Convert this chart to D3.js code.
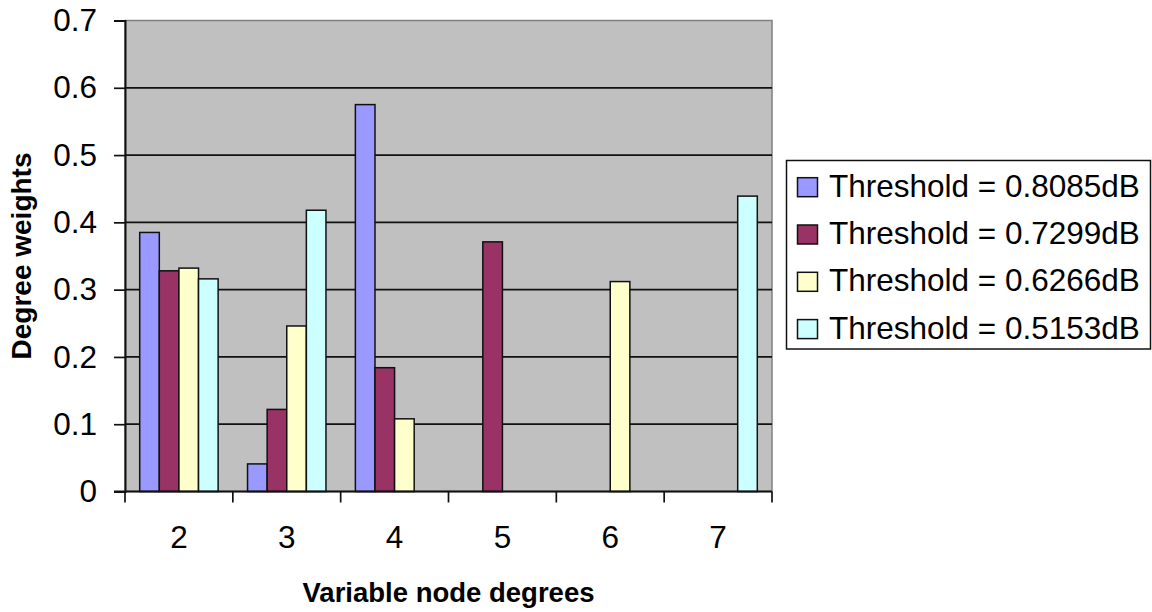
<!DOCTYPE html>
<html>
<head>
<meta charset="utf-8">
<script src="https://cdn.jsdelivr.net/npm/d3@7"></script>
<style>
  html, body { margin: 0; padding: 0; background: #ffffff; }
  svg { display: block; }
  text { font-family: "Liberation Sans", Arial, sans-serif; fill: #000; }
</style>
</head>
<body>
<svg id="chart" width="1152" height="612"></svg>
<script>
// Degree categories on the x axis
const categories = ["2", "3", "4", "5", "6", "7"];

// One entry per threshold series
const seriesNames = [
  "Threshold = 0.8085dB",
  "Threshold = 0.7299dB",
  "Threshold = 0.6266dB",
  "Threshold = 0.5153dB"
];
const seriesColors = ["#9999FF", "#993366", "#FFFFCC", "#CCFFFF"];

// Degree weights per series, aligned with categories
const weights0 = [0.385, 0.041, 0.575, 0, 0, 0];
const weights1 = [0.328, 0.122, 0.184, 0.371, 0, 0];
const weights2 = [0.332, 0.246, 0.108, 0, 0.312, 0];
const weights3 = [0.316, 0.418, 0, 0, 0, 0.439];

// Y axis ticks
const yTickValues = [0, 0.1, 0.2, 0.3, 0.4, 0.5, 0.6, 0.7];
const yTickLabels = ["0", "0.1", "0.2", "0.3", "0.4", "0.5", "0.6", "0.7"];

const allSeries = [weights0, weights1, weights2, weights3];

const svg = d3.select("#chart");
const plot = { left: 125, right: 772, top: 20.5, bottom: 491.5 };

const y = d3.scaleLinear().domain([0, 0.7]).range([plot.bottom, plot.top]);

// Excel-style gap width of 150%: half a gap on each side of the group
const gapRatio = 1.5 / 5.5;
const x = d3.scaleBand()
  .domain(categories)
  .range([plot.left, plot.right])
  .paddingInner(gapRatio)
  .paddingOuter(gapRatio / 2);

const xs = d3.scaleBand()
  .domain(d3.range(seriesNames.length))
  .range([0, x.bandwidth()]);

// Plot area background
svg.append("rect")
  .attr("x", plot.left).attr("y", plot.top)
  .attr("width", plot.right - plot.left)
  .attr("height", plot.bottom - plot.top)
  .attr("fill", "#C0C0C0")
  .attr("stroke", "#808080")
  .attr("stroke-width", 1.5);

// Horizontal gridlines
svg.append("g")
  .selectAll("line")
  .data(yTickValues.filter(v => v > 0 && v < 0.7))
  .join("line")
  .attr("x1", plot.left).attr("x2", plot.right)
  .attr("y1", d => y(d)).attr("y2", d => y(d))
  .attr("stroke", "#111")
  .attr("stroke-width", 1.7);

// Bars
const barData = [];
allSeries.forEach((vals, si) => {
  vals.forEach((v, ci) => {
    if (v > 0) barData.push({ cat: categories[ci], s: si, v: v });
  });
});

svg.append("g")
  .selectAll("rect")
  .data(barData)
  .join("rect")
  .attr("x", d => x(d.cat) + xs(d.s))
  .attr("y", d => y(d.v))
  .attr("width", xs.bandwidth())
  .attr("height", d => y(0) - y(d.v))
  .attr("fill", d => seriesColors[d.s])
  .attr("stroke", "#111")
  .attr("stroke-width", 1.5);

// Y axis
const yAxis = d3.axisLeft(y)
  .tickValues(yTickValues)
  .tickFormat((d, i) => yTickLabels[i])
  .tickSize(11)
  .tickPadding(17);

const gy = svg.append("g")
  .attr("transform", `translate(${plot.left},0)`)
  .call(yAxis);
gy.select(".domain").attr("stroke", "#111").attr("stroke-width", 2);
gy.selectAll(".tick line").attr("stroke", "#111").attr("stroke-width", 1.7);
gy.selectAll(".tick text")
  .attr("font-size", 31.5)
  .attr("font-family", "'Liberation Sans', Arial, sans-serif")
  .attr("fill", "#000");

// X axis: labels centred on categories, tick marks on category boundaries
const xAxis = d3.axisBottom(x).tickSize(0).tickPadding(34);
const gx = svg.append("g")
  .attr("transform", `translate(0,${plot.bottom})`)
  .call(xAxis);
gx.select(".domain").remove();
gx.selectAll(".tick text")
  .attr("font-size", 31.5)
  .attr("font-family", "'Liberation Sans', Arial, sans-serif")
  .attr("fill", "#000");

svg.append("line")
  .attr("x1", plot.left - 11).attr("x2", plot.right)
  .attr("y1", plot.bottom).attr("y2", plot.bottom)
  .attr("stroke", "#111").attr("stroke-width", 2);

const half = x.step() * x.paddingInner() / 2;
const boundaries = categories.map(c => x(c) - half).concat([plot.right]);
svg.append("g")
  .selectAll("line")
  .data(boundaries)
  .join("line")
  .attr("x1", d => d).attr("x2", d => d)
  .attr("y1", plot.bottom).attr("y2", plot.bottom + 11)
  .attr("stroke", "#111").attr("stroke-width", 1.7);

// Axis titles
svg.append("text")
  .attr("x", (plot.left + plot.right) / 2)
  .attr("y", 602)
  .attr("text-anchor", "middle")
  .attr("font-size", 27.5)
  .attr("font-weight", "bold")
  .text("Variable node degrees");

svg.append("text")
  .attr("transform", `translate(31,${(plot.top + plot.bottom) / 2}) rotate(-90)`)
  .attr("text-anchor", "middle")
  .attr("font-size", 28)
  .attr("font-weight", "bold")
  .text("Degree weights");

// Legend
const legend = svg.append("g");
legend.append("rect")
  .attr("x", 786.5).attr("y", 160.5)
  .attr("width", 364).attr("height", 188.5)
  .attr("fill", "#fff")
  .attr("stroke", "#111")
  .attr("stroke-width", 1.5);

const rows = legend.selectAll("g.row")
  .data(seriesNames)
  .join("g")
  .attr("class", "row")
  .attr("transform", (d, i) => `translate(0,${196.7 + i * 47.3})`);

rows.append("rect")
  .attr("x", 797.5).attr("y", -19)
  .attr("width", 20).attr("height", 19)
  .attr("fill", (d, i) => seriesColors[i])
  .attr("stroke", "#111")
  .attr("stroke-width", 1.5);

rows.append("text")
  .attr("x", 829)
  .attr("y", 0)
  .attr("font-size", 31.5)
  .text(d => d);
</script>
</body>
</html>
